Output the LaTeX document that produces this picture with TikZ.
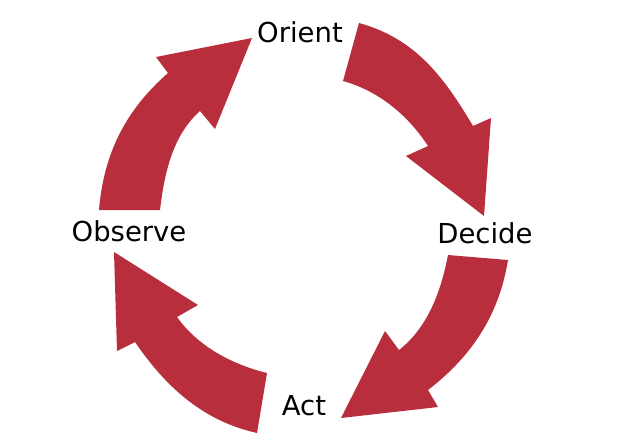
\documentclass[tikz,border=0pt]{standalone}
\usepackage{fontspec}
\setmainfont{DejaVu Sans}
\definecolor{arrred}{RGB}{185,46,60}
\begin{document}
\begin{tikzpicture}[x=0.75pt,y=-0.75pt,
  arr/.style={fill=arrred},
  lbl/.style={anchor=base,inner sep=0pt,font=\fontsize{20.6}{24}\selectfont,text=black}]
\useasboundingbox (0,0) rectangle (631,447);
% Observe -> Orient
\fill[arr] (160,210) .. controls (164.3,173.6) and (172.5,135.4) .. (200,111)
  -- (215,129) -- (252,38) -- (156,57) -- (168,73)
  .. controls (125.4,110.3) and (103.7,153.6) .. (99,210) -- cycle;
% Orient -> Decide
\fill[arr] (359,23) .. controls (414.9,38.4) and (443.4,76.1) .. (473,126)
  -- (491,118) -- (484,216) -- (406,156) -- (428,146)
  .. controls (408,115.2) and (378.4,90.7) .. (343,81) -- cycle;
% Decide -> Act
\fill[arr] (448,255) -- (508,260) .. controls (499.2,314.6) and (471.9,356.3) .. (428,390)
  -- (438,407) -- (341,418) -- (385,331) -- (399,350)
  .. controls (428,327.4) and (441,291.1) .. (448,255) -- cycle;
% Act -> Observe
\fill[arr] (267,373) -- (257,433) .. controls (203.3,421) and (166.1,387.4) .. (135,342)
  -- (117,351) -- (114,252) -- (198,305) -- (177,317)
  .. controls (198.1,346.5) and (231.8,364.3) .. (267,373) -- cycle;
\node[lbl] (orient) at (300,42) {Orient};
\node[lbl] (decide) at (485,243) {Decide};
\node[lbl] (act) at (304,415) {Act};
\node[lbl] (observe) at (129,241) {Observe};
\end{tikzpicture}
\end{document}
